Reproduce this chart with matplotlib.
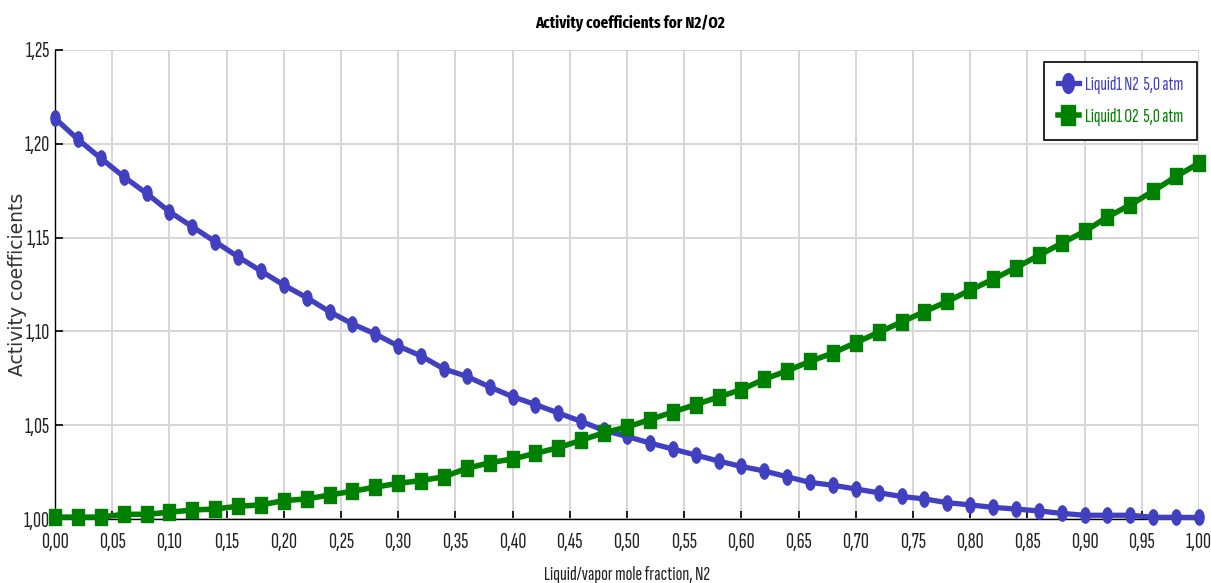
import numpy as np
import matplotlib
matplotlib.use("Agg")
import matplotlib.pyplot as plt
from matplotlib.path import Path
from matplotlib.ticker import FuncFormatter, MultipleLocator

# Mole fraction of N2 in the liquid/vapor phase
x_n2 = [round(0.02 * i, 2) for i in range(51)]

# Activity coefficient of N2 in liquid phase at 5.0 atm
gamma_n2 = [1.2136, 1.2024, 1.1923, 1.1825, 1.1736, 1.1638, 1.1558, 1.1478, 1.1398, 1.1322,
            1.1247, 1.1180, 1.1105, 1.1040, 1.0986, 1.0922, 1.0869, 1.0800, 1.0760, 1.0704,
            1.0652, 1.0610, 1.0565, 1.0520, 1.0472, 1.0440, 1.0405, 1.0373, 1.0341, 1.0309,
            1.0280, 1.0256, 1.0225, 1.0195, 1.0180, 1.0160, 1.0140, 1.0120, 1.0107, 1.0087,
            1.0075, 1.0062, 1.0053, 1.0043, 1.0030, 1.0020, 1.0020, 1.0020, 1.0009, 1.0009,
            1.0008]

# Activity coefficient of O2 in liquid phase at 5.0 atm
gamma_o2 = [1.0010, 1.0010, 1.0010, 1.0025, 1.0025, 1.0036, 1.0048, 1.0053, 1.0068, 1.0075,
            1.0098, 1.0107, 1.0128, 1.0148, 1.0170, 1.0190, 1.0205, 1.0225, 1.0270, 1.0300,
            1.0320, 1.0350, 1.0380, 1.0420, 1.0460, 1.0490, 1.0530, 1.0570, 1.0610, 1.0650,
            1.0690, 1.0745, 1.0790, 1.0840, 1.0885, 1.0940, 1.0995, 1.1050, 1.1105, 1.1160,
            1.1220, 1.1278, 1.1340, 1.1405, 1.1470, 1.1533, 1.1610, 1.1675, 1.1748, 1.1826,
            1.1897]

series_labels = ["Liquid1 N2  5,0 atm", "Liquid1 O2  5,0 atm"]
title_text = "Activity coefficients for N2/O2"
xlabel_text = "Liquid/vapor mole fraction, N2"
ylabel_text = "Activity coefficients"

BLUE = "#4040C0"
GREEN = "#008000"
TEXT = "#222222"

narrow = ["Sofia Sans Extra Condensed", "Fira Sans Extra Condensed", "DejaVu Sans"]
narrow_bold = ["Fira Sans Extra Condensed", "Roboto Condensed", "DejaVu Sans"]
plt.rcParams["font.family"] = narrow

# Slightly tall markers: an ellipse and a rectangle
circ = Path.unit_circle()
ellipse_marker = Path(circ.vertices * np.array([0.6, 1.0]), circ.codes)
rect_marker = Path(np.array([[-0.75, -1.0], [0.75, -1.0], [0.75, 1.0], [-0.75, 1.0], [-0.75, -1.0]]),
                   [Path.MOVETO, Path.LINETO, Path.LINETO, Path.LINETO, Path.CLOSEPOLY])

W, H = 1211, 583
fig = plt.figure(figsize=(W / 100, H / 100), dpi=100)
ax = fig.add_axes([55 / W, 1 - 519 / H, (1199 - 55) / W, (519 - 50) / H])

ax.plot(x_n2, gamma_n2, color=BLUE, lw=3.8, marker=ellipse_marker, ms=11,
        label=series_labels[0], zorder=3, clip_on=False)
ax.plot(x_n2, gamma_o2, color=GREEN, lw=4.0, marker=rect_marker, ms=11,
        label=series_labels[1], zorder=3, clip_on=False)

ax.set_xlim(0, 1.0)
ax.set_ylim(1.0, 1.25)
ax.xaxis.set_major_locator(MultipleLocator(0.05))
ax.yaxis.set_major_locator(MultipleLocator(0.05))
comma_fmt = FuncFormatter(lambda v, p: f"{v:.2f}".replace(".", ","))
ax.xaxis.set_major_formatter(comma_fmt)
ax.yaxis.set_major_formatter(comma_fmt)

ax.grid(True, color="#d6d6d6", lw=1.4, zorder=0)
ax.set_axisbelow(True)
for s in ["top", "right"]:
    ax.spines[s].set_visible(False)
for s in ["left", "bottom"]:
    ax.spines[s].set_color("black")
    ax.spines[s].set_linewidth(1.0)
ax.tick_params(axis="both", direction="in", length=6, width=1.2, color="black",
               labelsize=16, labelcolor=TEXT)
ax.tick_params(axis="x", pad=10)
ax.tick_params(axis="y", pad=4)

fig.text(630 / W, 1 - 24 / H, title_text, fontsize=11.8, fontweight="bold",
         family=narrow_bold, ha="center", va="center", color="black")
fig.text(627 / W, 1 - 575 / H, xlabel_text, fontsize=14.5, ha="center", va="center",
         color=TEXT)
fig.text(18 / W, 1 - 284 / H, ylabel_text, fontsize=13.5, family=["DejaVu Sans"],
         rotation=90, ha="center", va="center", color="#333333")

leg = ax.legend(loc="upper right", bbox_to_anchor=(1197 / W, 1 - 62 / H),
                bbox_transform=fig.transFigure, fontsize=14, borderaxespad=0,
                frameon=True, fancybox=False, edgecolor="black", framealpha=1,
                handlelength=1.1, handletextpad=0.3, borderpad=0.7, labelspacing=0.75,
                markerscale=1.3)
leg.get_frame().set_linewidth(1.2)
for txt, col in zip(leg.get_texts(), [BLUE, GREEN]):
    txt.set_color(col)

fig.savefig("out.png", dpi=100)
